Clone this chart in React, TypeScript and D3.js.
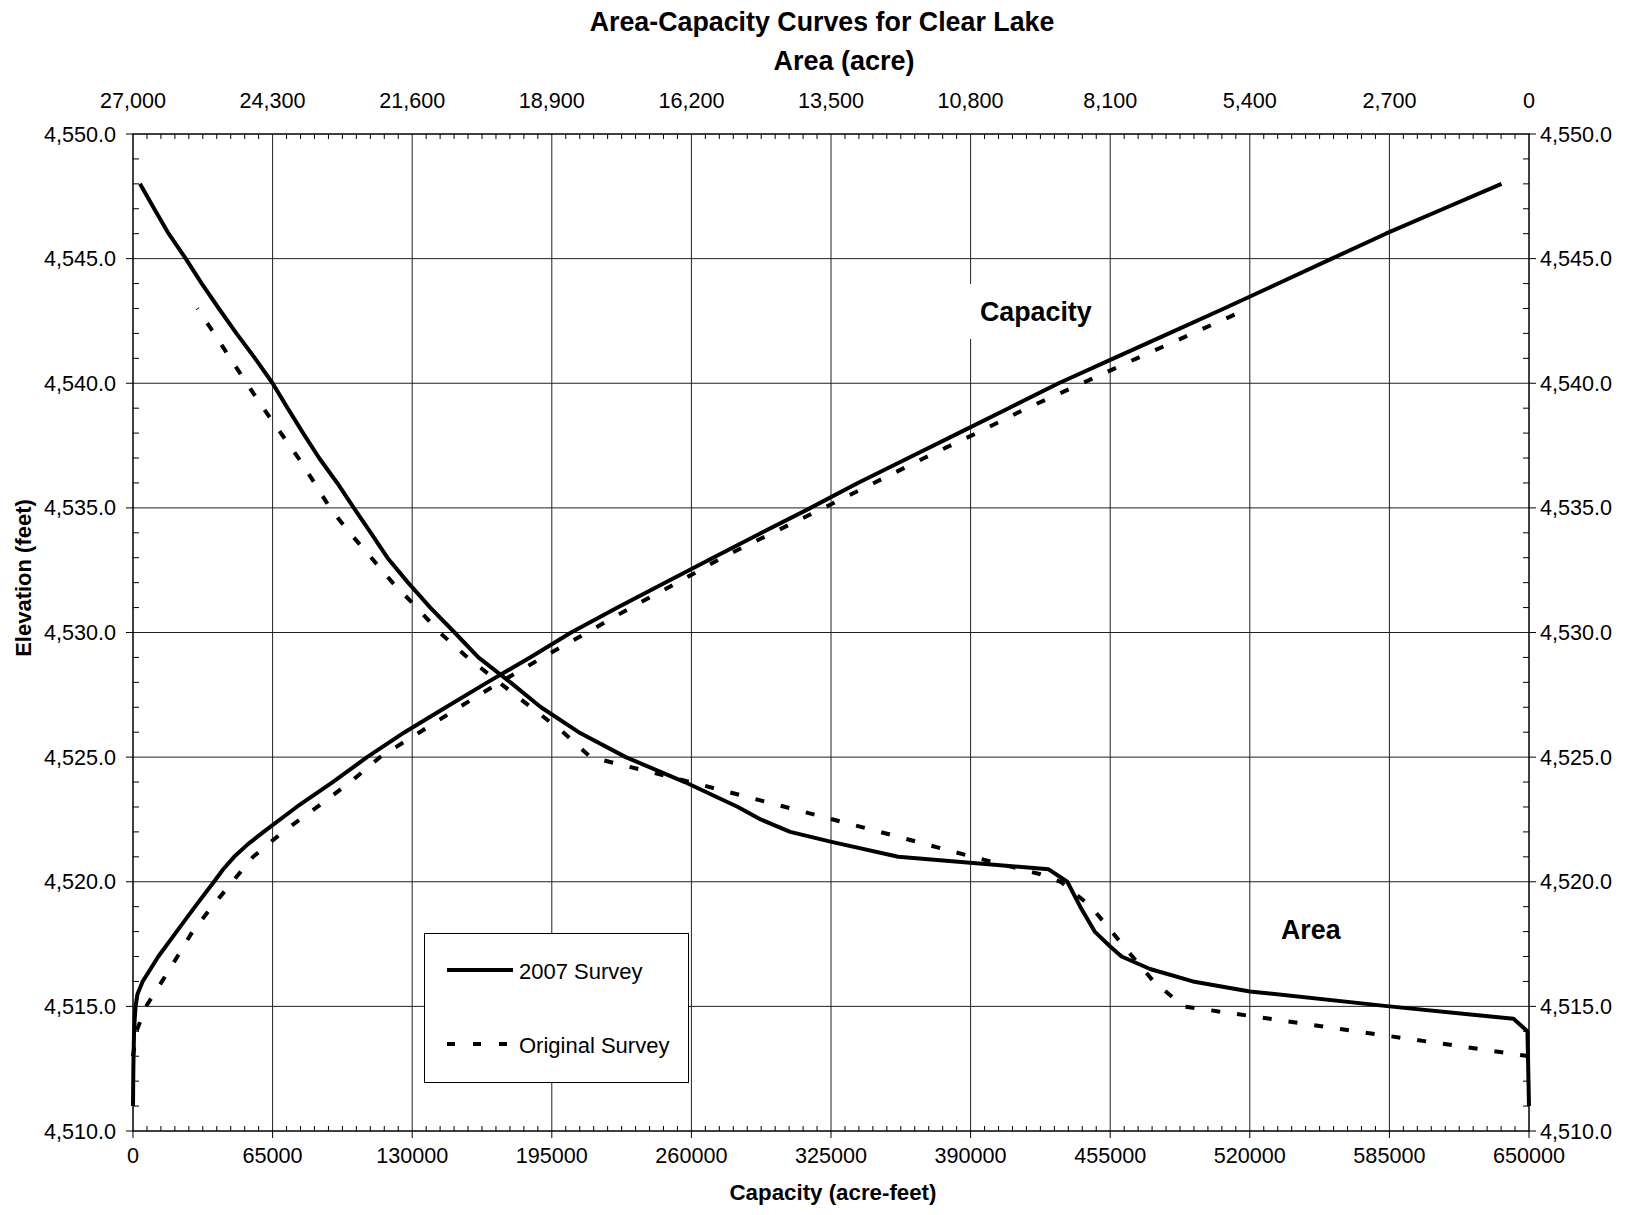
import React from "react";
import * as d3 from "d3";

// elevation (feet) vs capacity (acre-feet) / area (acre)
const capElev2007 = [
  4511, 4512, 4513, 4514, 4514.5, 4515, 4515.5, 4516, 4517, 4518, 4519, 4520,
  4520.5, 4521, 4521.5, 4522, 4523, 4524, 4525, 4526, 4527, 4528, 4529, 4530,
  4531, 4532, 4533, 4534, 4535, 4536, 4537, 4538, 4539, 4540, 4541, 4542, 4543,
  4544, 4545, 4546, 4547, 4548,
];
const cap2007 = [
  0, 100, 250, 500, 800, 1200, 2100, 4500, 11800, 20300, 28900, 37700, 42000,
  47100, 53400, 60800, 76200, 93000, 109000, 126500, 145700, 165000, 184900,
  204000, 225600, 247700, 270100, 292700, 315500, 337500, 361000, 384400,
  407700, 431000, 456600, 482400, 508000, 533200, 558200, 583300, 610200, 637200,
];

const capElevOrig = [
  4513, 4514, 4515, 4516, 4517, 4518, 4519, 4520, 4521, 4522, 4523, 4524, 4525,
  4526, 4527, 4528, 4529, 4530, 4531, 4532, 4533, 4534, 4535, 4536, 4537, 4538,
  4539, 4540, 4541, 4542, 4543,
];
const capOrig = [
  0, 1600, 6100, 13500, 20700, 27700, 36800, 46300, 55900, 69800, 85800, 101200,
  115000, 133500, 151900, 170800, 190700, 211500, 231800, 253500, 274200, 297900,
  321600, 345000, 368400, 392800, 416200, 442000, 467400, 493400, 519300,
];

const areaElev2007 = [
  4511, 4514, 4514.5, 4515, 4515.6, 4516, 4516.5, 4517, 4517.4, 4518, 4519, 4520,
  4520.5, 4521, 4521.6, 4522, 4522.5, 4523, 4524, 4525, 4526, 4527, 4528, 4529,
  4530, 4531, 4532, 4533, 4534, 4535, 4536, 4537, 4538, 4539, 4540, 4541, 4542,
  4543, 4544, 4545, 4546, 4547, 4548,
];
const area2007 = [
  0, 30, 300, 2700, 5400, 6500, 7330, 7880, 8100, 8400, 8680, 8930, 9290, 12200,
  13490, 14290, 14860, 15300, 16330, 17470, 18380, 19110, 19700, 20320, 20780,
  21250, 21680, 22080, 22400, 22730, 23050, 23400, 23710, 24010, 24300, 24640,
  25000, 25340, 25670, 25980, 26310, 26590, 26865,
];

const areaElevOrig = [
  4513, 4515, 4516, 4517, 4518, 4519, 4520, 4520.3, 4521, 4522, 4523, 4524, 4525,
  4526, 4527, 4528, 4529, 4530, 4531, 4532, 4533, 4534, 4535, 4536, 4537, 4538,
  4539, 4540, 4541, 4542, 4543,
];
const areaOrig = [
  0, 6680, 7260, 7670, 8070, 8470, 9060, 9450, 10760, 12550, 14380, 16220, 18150,
  18680, 19300, 19920, 20530, 21070, 21510, 21980, 22390, 22810, 23190, 23490,
  23800, 24140, 24480, 24800, 25120, 25430, 25756,
];

const capTicks = [0, 65000, 130000, 195000, 260000, 325000, 390000, 455000, 520000, 585000, 650000];
const areaTicks = [27000, 24300, 21600, 18900, 16200, 13500, 10800, 8100, 5400, 2700, 0];
const elevTicks = [4510, 4515, 4520, 4525, 4530, 4535, 4540, 4545, 4550];

const W = 1636;
const H = 1215;
const L = 133;
const R = 1529;
const T = 134;
const B = 1131;
const FONT = "'Liberation Sans', Arial, sans-serif";

export default function App() {
  const x = d3.scaleLinear().domain([0, 650000]).range([L, R]);
  const xa = d3.scaleLinear().domain([27000, 0]).range([L, R]);
  const y = d3.scaleLinear().domain([4510, 4550]).range([B, T]);

  // path for one survey curve, values on the given x scale, elevations on y
  const pathFrom = (
    xs: number[],
    es: number[],
    sx: d3.ScaleLinear<number, number>
  ) =>
    d3
      .line<number>()
      .x((d) => sx(d))
      .y((_, i) => y(es[i]))(xs) || "";

  const minorX = d3.range(0, 650001, 6500).filter((v) => v % 65000 !== 0);
  const minorY = d3.range(4510, 4551, 1).filter((v) => v % 5 !== 0);

  const fmtArea = d3.format(",");
  const fmtElev = d3.format(",.1f");

  return (
    <svg
      width={W}
      height={H}
      style={{ position: "absolute", left: 0, top: 0, background: "#fff" }}
      fontFamily={FONT}
    >
      <rect x={0} y={0} width={W} height={H} fill="#fff" />

      {/* grid */}
      <g stroke="#222" strokeWidth={1}>
        {capTicks.slice(1, -1).map((v) => (
          <line key={"gx" + v} x1={x(v)} x2={x(v)} y1={T} y2={B} />
        ))}
        {elevTicks.slice(1, -1).map((v) => (
          <line key={"gy" + v} x1={L} x2={R} y1={y(v)} y2={y(v)} />
        ))}
      </g>

      {/* plot frame */}
      <rect x={L} y={T} width={R - L} height={B - T} fill="none" stroke="#000" strokeWidth={1.5} />

      {/* ticks */}
      <g stroke="#000" strokeWidth={1}>
        {minorX.map((v) => (
          <React.Fragment key={"mx" + v}>
            <line x1={x(v)} x2={x(v)} y1={B} y2={B - 5} />
            <line x1={x(v)} x2={x(v)} y1={T} y2={T + 5} />
          </React.Fragment>
        ))}
        {capTicks.map((v) => (
          <line key={"tx" + v} x1={x(v)} x2={x(v)} y1={B} y2={B + 7} />
        ))}
        {minorY.map((v) => (
          <React.Fragment key={"my" + v}>
            <line x1={L} x2={L + 6} y1={y(v)} y2={y(v)} />
            <line x1={R - 6} x2={R} y1={y(v)} y2={y(v)} />
          </React.Fragment>
        ))}
        {elevTicks.map((v) => (
          <React.Fragment key={"ty" + v}>
            <line x1={L - 7} x2={L} y1={y(v)} y2={y(v)} />
            <line x1={R} x2={R + 7} y1={y(v)} y2={y(v)} />
          </React.Fragment>
        ))}
      </g>

      {/* tick labels */}
      <g fontSize={21.6} fill="#000">
        {capTicks.map((v) => (
          <text key={"lx" + v} x={x(v)} y={1163} textAnchor="middle">
            {v}
          </text>
        ))}
        {areaTicks.map((v) => (
          <text key={"la" + v} x={xa(v)} y={108} textAnchor="middle">
            {fmtArea(v)}
          </text>
        ))}
        {elevTicks.map((v) => (
          <React.Fragment key={"ly" + v}>
            <text x={116} y={y(v) + 7.5} textAnchor="end">
              {fmtElev(v)}
            </text>
            <text x={1540} y={y(v) + 7.5} textAnchor="start">
              {fmtElev(v)}
            </text>
          </React.Fragment>
        ))}
      </g>

      {/* white box behind the Capacity label */}
      <rect x={966} y={284} width={136} height={55} fill="#fff" />

      {/* curves */}
      <g fill="none" stroke="#000" strokeWidth={4} strokeLinejoin="round">
        <path d={pathFrom(cap2007, capElev2007, x)} />
        <path d={pathFrom(area2007, areaElev2007, xa)} />
        <path d={pathFrom(capOrig, capElevOrig, x)} strokeDasharray="9,17" strokeLinejoin="miter" />
        <path d={pathFrom(areaOrig, areaElevOrig, xa)} strokeDasharray="9,17" strokeLinejoin="miter" />
      </g>

      {/* curve labels */}
      <g fontSize={26.8} fontWeight="bold" fill="#000">
        <text x={980} y={321}>Capacity</text>
        <text x={1281} y={939}>Area</text>
      </g>

      {/* legend */}
      <rect x={424.5} y={933.5} width={264} height={149} fill="#fff" stroke="#000" strokeWidth={1} />
      <line x1={447} x2={513} y1={970} y2={970} stroke="#000" strokeWidth={4} />
      <line x1={447} x2={513} y1={1044} y2={1044} stroke="#000" strokeWidth={4} strokeDasharray="8,18" />
      <g fontSize={22} fill="#000">
        <text x={519} y={979}>2007 Survey</text>
        <text x={519} y={1053}>Original Survey</text>
      </g>

      {/* titles */}
      <g fontWeight="bold" fill="#000">
        <text x={822} y={31} fontSize={26.8} textAnchor="middle">
          Area-Capacity Curves for Clear Lake
        </text>
        <text x={844} y={70} fontSize={27} textAnchor="middle">
          Area (acre)
        </text>
        <text x={833} y={1200} fontSize={22.3} textAnchor="middle">
          Capacity (acre-feet)
        </text>
        <text transform="translate(31,578) rotate(-90)" fontSize={22} textAnchor="middle">
          Elevation (feet)
        </text>
      </g>
    </svg>
  );
}
